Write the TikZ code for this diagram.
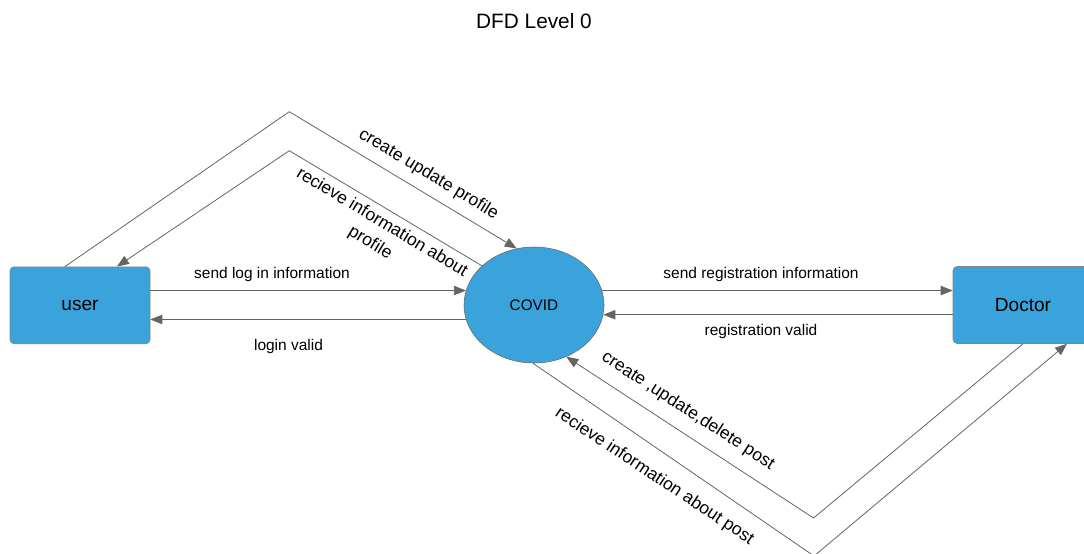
\documentclass[tikz,border=0pt]{standalone}
\usepackage{fontspec}
\setmainfont{Liberation Sans}
\usetikzlibrary{shapes.geometric,arrows.meta,calc}
\definecolor{procblue}{RGB}{59,163,220}
\definecolor{flowgray}{RGB}{100,100,100}

\begin{document}
\begin{tikzpicture}[
    x=0.75pt, y=-0.75pt,
    entity/.style={draw=flowgray!80, fill=procblue, rounded corners=3pt, minimum width=105pt, minimum height=57.75pt, inner sep=0pt, font=\fontsize{14.3}{17}\selectfont},
    process/.style={ellipse, draw=flowgray, fill=procblue, minimum width=105pt, minimum height=87pt, inner sep=0pt, font=\fontsize{11.5}{14}\selectfont},
    flow/.style={draw=flowgray, line width=0.6pt, -{Triangle[length=9pt, width=7pt]}},
    lbl/.style={font=\fontsize{11.6}{14}\selectfont, inner sep=0pt},
    slbl/.style={font=\fontsize{13.1}{17.3}\selectfont, inner sep=0pt, align=center},
    ttl/.style={font=\fontsize{15.6}{19}\selectfont, inner sep=0pt}
  ]
  \useasboundingbox (0,0) rectangle (1084,553);

  % Title
  \node[ttl] (title) at (534,21) {DFD Level 0};

  % Entities and process
  \node[entity] (user) at (80,305.3) {user};
  \node[process] (covid) at (534,305) {COVID};
  \node[entity] (doctor) at (1023,305) {Doctor};

  % Bend points
  \coordinate (upA) at (289.3,111.7);
  \coordinate (upB) at (289.3,150.7);
  \coordinate (lowA) at (813.5,518);
  \coordinate (lowB) at (814,556);

  % user <-> COVID
  \draw[flow] (covid.168 -| user.east) -- (covid.168);
  \draw[flow] (covid.192) -- (covid.192 -| user.east);
  \draw[flow] ($(user.north)+(-15,0)$) -- (upA) -- (covid.107);
  \draw[flow] (covid.143) -- (upB) -- ($(user.north)+(37,0)$);

  % COVID <-> Doctor
  \draw[flow] (covid.12) -- (covid.12 -| doctor.west);
  \draw[flow] (covid.352 -| doctor.west) -- (covid.352);
  \draw[flow] (doctor.south) -- (lowA) -- (covid.302);
  \draw[flow] (covid.269) -- (lowB) -- ($(doctor.south)+(44,0)$);

  % Flow labels
  \node[lbl] (sendlog) at (272,274) {send log in information};
  \node[lbl] (logvalid) at (288.5,346) {login valid};
  \node[lbl] (sendreg) at (761,274) {send registration information};
  \node[lbl] (regvalid) at (761,331.5) {registration valid};
  \node[slbl, rotate=-31] (updprof) at (428.5,174.5) {create update profile};
  \node[slbl, rotate=-31] (recprof) at (376,233) {recieve information about\\profile};
  \node[slbl, rotate=-33] (updpost) at (688,411) {create ,update,delete post};
  \node[slbl, rotate=-33.5] (recpost) at (654.5,476.5) {recieve information about post};

\end{tikzpicture}
\end{document}
